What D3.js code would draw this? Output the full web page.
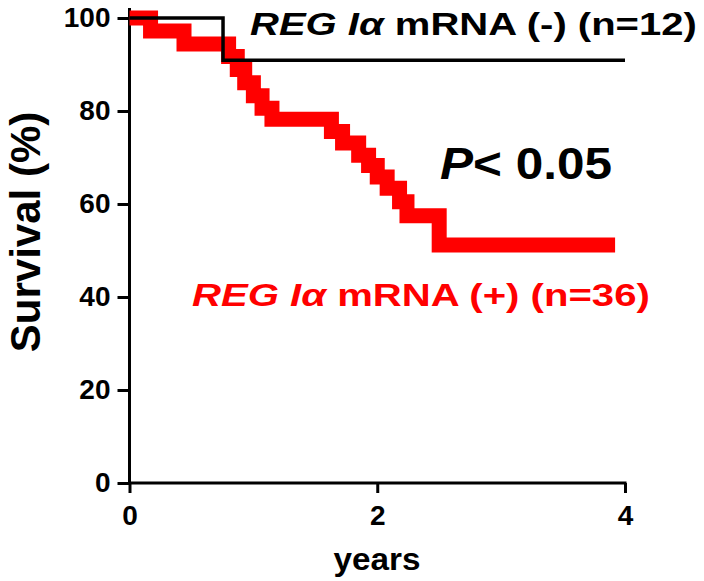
<!DOCTYPE html>
<html><head><meta charset="utf-8">
<script src="https://cdn.jsdelivr.net/npm/d3@7"></script>
<style>html,body{margin:0;padding:0;background:#fff;}svg{display:block;}text{font-family:"Liberation Sans",Arial,sans-serif;font-weight:bold;}</style>
</head><body>
<script>
// Data
const xTickValues = [0, 2, 4];
const yTickValues = [0, 20, 40, 60, 80, 100];
const negTimes = [0, 0.755, 4.0];
const negSurvival = [100, 90.9, 90.9];
const posTimes = [0, 0.17, 0.44, 0.80, 0.87, 0.93, 1.00, 1.07, 1.15, 1.63, 1.72, 1.85, 1.93, 2.00, 2.08, 2.18, 2.24, 2.50, 3.92];
const posSurvival = [100, 97.2, 94.4, 91.7, 88.9, 86.1, 83.3, 80.6, 78.2, 75.6, 73.1, 70.5, 68.3, 65.8, 63.4, 60.5, 57.5, 51.2, 51.2];
const labelNeg = "mRNA (-) (n=12)";
const labelPos = "mRNA (+) (n=36)";
const pText = "< 0.05";

const W = 704, H = 581;
const svg = d3.select("body").append("svg").attr("width", W).attr("height", H);
const x = d3.scaleLinear().domain([0, 4]).range([129.5, 625]);
const y = d3.scaleLinear().domain([0, 100]).range([483, 18]);

// fit text horizontally to a target width (reference glyphs are horizontally stretched)
function fitText(sel, x0, y0, width, anchor) {
  const w = sel.node().getComputedTextLength();
  const s = width / w;
  const tx = anchor === "middle" ? x0 - width / 2 : x0;
  sel.attr("x", 0).attr("y", 0).attr("text-anchor", "start")
     .attr("transform", `translate(${tx},${y0}) scale(${s},1)`);
}

// axes
const yAxis = svg.append("g").attr("transform", `translate(${x(0)},0)`)
  .call(d3.axisLeft(y).tickValues(yTickValues).tickSize(12).tickPadding(7).tickFormat(d3.format("d")));
const xAxis = svg.append("g").attr("transform", `translate(0,${y(0)})`)
  .call(d3.axisBottom(x).tickValues(xTickValues).tickSize(10).tickPadding(12).tickFormat(d3.format("d")));
[yAxis, xAxis].forEach(g => {
  g.select(".domain").attr("stroke", "#000").attr("stroke-width", 3);
  g.selectAll(".tick line").attr("stroke", "#000").attr("stroke-width", 3);
  g.selectAll(".tick text").attr("fill", "#000").style("font-size", "28px").style("font-family", '"Liberation Sans",Arial,sans-serif').style("font-weight", "bold");
});
yAxis.select(".domain").attr("d", `M0,${y(0)}V8`);
xAxis.select(".domain").attr("d", `M${x(0)},0H${x(4)+1.5}`);

const line = d3.line().x(d => x(d[0])).y(d => y(d[1])).curve(d3.curveStepAfter);

// red curve
svg.append("path").datum(posTimes.map((t, i) => [t, posSurvival[i]]))
  .attr("d", line).attr("fill", "none").attr("stroke", "#ff0000")
  .attr("stroke-width", 15).attr("stroke-linejoin", "miter");
// black curve
svg.append("path").datum(negTimes.map((t, i) => [t, negSurvival[i]]))
  .attr("d", line).attr("fill", "none").attr("stroke", "#000")
  .attr("stroke-width", 3.5).attr("stroke-linejoin", "miter");

// labels
const t1 = svg.append("text").attr("fill", "#000").style("font-size", "32px");
t1.append("tspan").style("font-style", "italic").text("REG Iα");
t1.append("tspan").text(" " + labelNeg);
fitText(t1, 250, 35, 447);

const t2 = svg.append("text").attr("fill", "#ff0000").style("font-size", "32px");
t2.append("tspan").style("font-style", "italic").text("REG Iα");
t2.append("tspan").text(" " + labelPos);
fitText(t2, 192, 306, 458);

const t3 = svg.append("text").attr("fill", "#000").style("font-size", "44px");
t3.append("tspan").style("font-style", "italic").text("P");
t3.append("tspan").text(pText);
fitText(t3, 440, 179, 172);

const ty = svg.append("text").style("font-size", "32px").text("years");
fitText(ty, 377, 570, 87, "middle");
svg.append("text").attr("transform", "translate(40,232) rotate(-90)").attr("text-anchor", "middle").style("font-size", "42px").text("Survival (%)");
</script>
</body></html>
